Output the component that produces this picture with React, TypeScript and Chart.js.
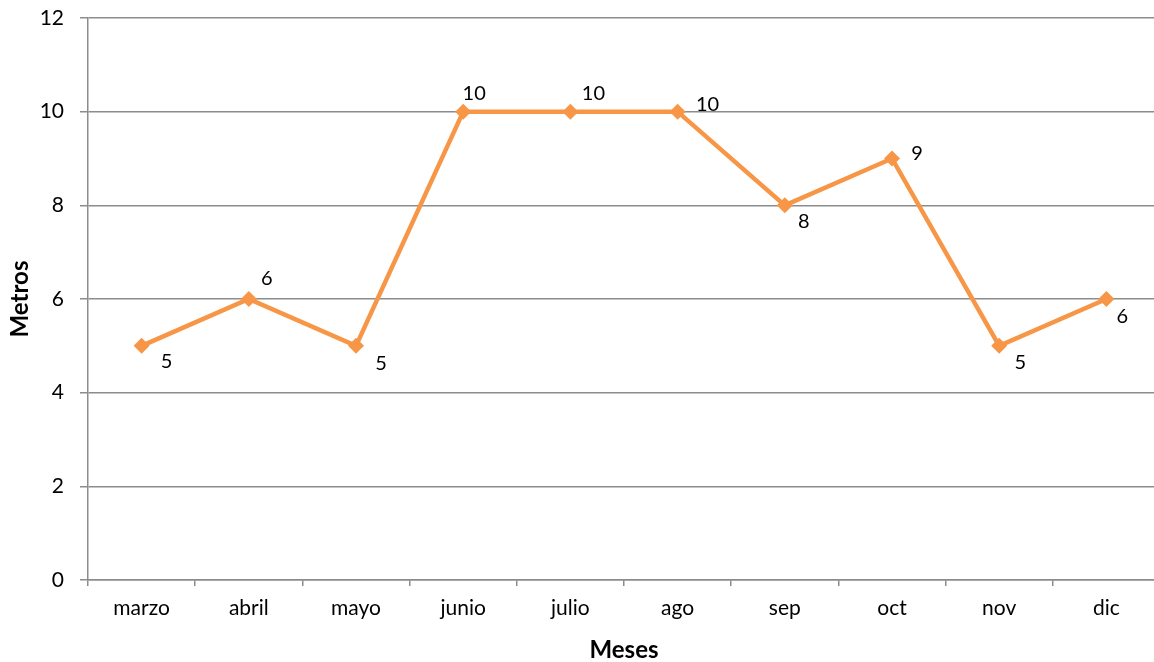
import React, { useEffect, useRef } from "react";
import { Chart, registerables } from "chart.js";

Chart.register(...registerables);

const months = ["marzo", "abril", "mayo", "junio", "julio", "ago", "sep", "oct", "nov", "dic"];
const metros = [5, 6, 5, 10, 10, 10, 8, 9, 5, 6];
const yTicks = [0, 2, 4, 6, 8, 10, 12];
// where each value label sits relative to its marker (dx, dy in px)
const labelDx = [25, 18, 25, 11, 23, 30, 19, 25, 21, 16];
const labelDy = [16, -20, 18, -18, -18, -7, 16, -5, 17, 18];

const FONT = "Lato, 'Open Sans', sans-serif";
const LINE = "#F79646";
const GRID = "#8C8C8C";

const valueLabels = {
  id: "valueLabels",
  afterDatasetsDraw(chart: any) {
    const ctx = chart.ctx;
    const meta = chart.getDatasetMeta(0);
    ctx.save();
    ctx.font = `20px ${FONT}`;
    ctx.fillStyle = "#000";
    ctx.textAlign = "center";
    ctx.textBaseline = "middle";
    meta.data.forEach((pt: any, i: number) => {
      ctx.fillText(String(metros[i]), pt.x + labelDx[i], pt.y + labelDy[i]);
    });
    ctx.restore();
  },
};

export default function App() {
  const ref = useRef<HTMLCanvasElement | null>(null);

  useEffect(() => {
    document.body.style.margin = "0";
    document.body.style.overflow = "hidden";
    const canvas = ref.current;
    if (!canvas) return;
    const chart = new Chart(canvas, {
      type: "line",
      data: {
        labels: months,
        datasets: [
          {
            label: "Metros",
            data: metros,
            borderColor: LINE,
            backgroundColor: LINE,
            borderWidth: 4.5,
            pointStyle: "rectRot",
            pointRadius: 8,
            pointBorderWidth: 0,
            pointBackgroundColor: LINE,
            tension: 0,
          },
        ],
      },
      options: {
        animation: false,
        responsive: false,
        layout: { padding: { top: 18, right: 10, left: 0, bottom: 0 } },
        plugins: {
          legend: { display: false },
          tooltip: { enabled: false },
        },
        scales: {
          x: {
            offset: true,
            grid: {
              offset: true,
              drawOnChartArea: false,
              drawTicks: true,
              tickLength: 6,
              color: GRID,
              lineWidth: 1.5,
            },
            border: { color: GRID, width: 1.5 },
            ticks: {
              color: "#000",
              font: { family: FONT, size: 21 },
              padding: 10,
              maxRotation: 0,
            },
            title: {
              display: true,
              text: "Meses",
              color: "#000",
              font: { family: FONT, size: 24, weight: "bold", lineHeight: 1 },
              padding: { top: 6, bottom: 0 },
            },
            afterFit(scale: any) {
              scale.height = 82;
              scale.paddingLeft = 0;
              scale.paddingRight = 0;
            },
          },
          y: {
            min: 0,
            max: 12,
            afterBuildTicks(scale: any) {
              scale.ticks = yTicks.map((v) => ({ value: v }));
            },
            grid: {
              color: GRID,
              lineWidth: 1.5,
              tickLength: 8,
            },
            border: { color: GRID, width: 1.5 },
            ticks: {
              color: "#000",
              font: { family: FONT, size: 21 },
              padding: 16,
            },
            title: {
              display: true,
              text: "Metros",
              color: "#000",
              font: { family: FONT, size: 24, weight: "bold" },
              padding: { top: 6, bottom: 0 },
            },
            afterFit(scale: any) {
              scale.width = 88;
              scale.paddingTop = 0;
              scale.paddingBottom = 0;
            },
          },
        },
      },
      plugins: [valueLabels],
    });
    return () => chart.destroy();
  }, []);

  return (
    <div style={{ position: "absolute", left: 0, top: 0, width: 1170, height: 662 }}>
      <canvas ref={ref} width={1170} height={662} style={{ width: 1170, height: 662, display: "block" }} />
    </div>
  );
}
